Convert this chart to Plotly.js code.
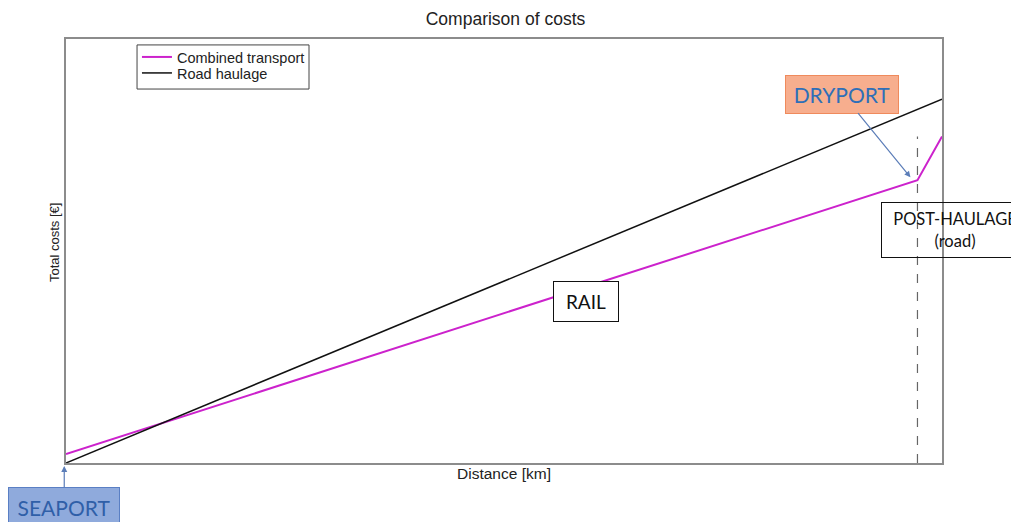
<!DOCTYPE html>
<html>
<head>
<meta charset="utf-8">
<script src="https://cdn.plot.ly/plotly-3.0.1.min.js"></script>
<style>html,body{margin:0;padding:0;background:#fff;}#chart{width:1011px;height:522px;}</style>
</head>
<body>
<div id="chart"></div>
<script>
// Distance (relative units, axes carry no tick labels)
const distanceCombined = [0, 97.2, 100];
const costCombined = [2.1, 66.7, 77.0];
const distanceRoad = [0, 100];
const costRoad = [0, 85.8];
const seriesNames = ["Combined transport", "Road haulage"];
const dryportDistance = 97.2;
const postHaulageTop = 77.0;

const traces = [
  {x: distanceCombined, y: costCombined, name: seriesNames[0], type: 'scatter', mode: 'lines',
   line: {color: '#cc22cc', width: 2}, legend: 'legend'},
  {x: distanceRoad, y: costRoad, name: seriesNames[1], type: 'scatter', mode: 'lines',
   line: {color: '#111111', width: 1.5}, legend: 'legend2'}
];

const calib = 'Lato, "Open Sans", sans-serif';
const legendCommon = {xanchor: 'left', yanchor: 'middle', bgcolor: 'rgba(0,0,0,0)',
  borderwidth: 0, font: {size: 14.5, color: '#222'}, itemwidth: 30};
const layout = {
  width: 1011, height: 522,
  margin: {l: 66, r: 69, t: 39, b: 59},
  paper_bgcolor: '#ffffff', plot_bgcolor: '#ffffff',
  font: {family: '"Liberation Sans", Arial, sans-serif', color: '#222'},
  title: {text: 'Comparison of costs', font: {size: 17.5, color: '#222'}, x: 0.5, xanchor: 'center', y: 0.975, yanchor: 'top'},
  xaxis: {range: [0, 100], showticklabels: false, ticks: '', showgrid: false, zeroline: false,
    showline: true, mirror: true, linecolor: '#8c8c8c', linewidth: 2,
    title: {text: 'Distance [km]', font: {size: 15.5, color: '#222'}, standoff: 4}},
  yaxis: {range: [0, 100], showticklabels: false, ticks: '', showgrid: false, zeroline: false,
    showline: true, mirror: true, linecolor: '#8c8c8c', linewidth: 2},
  showlegend: true,
  legend: Object.assign({x: 0.081, y: 0.9575}, legendCommon),
  legend2: Object.assign({x: 0.081, y: 0.9198}, legendCommon),
  shapes: [
    {type: 'line', xref: 'x', yref: 'y', x0: dryportDistance, x1: dryportDistance, y0: 0, y1: postHaulageTop,
     line: {color: '#666666', width: 1.2, dash: 'dash'}},
    {type: 'rect', xref: 'paper', yref: 'paper', x0: 0.0811, x1: 0.2774, y0: 0.882, y1: 0.986,
     line: {color: '#444', width: 1}, fillcolor: '#ffffff', layer: 'above'}
  ],
  annotations: [
    {xref: 'paper', yref: 'paper', x: -0.0137, y: 0.521, xanchor: 'center', yanchor: 'middle',
     text: 'Total costs [€]', textangle: -90, showarrow: false, font: {size: 13, color: '#222'}},
    {xref: 'x', yref: 'y', x: 96.4, y: 67.4, text: 'DRYPORT', showarrow: true,
     ax: -68, ay: -83, arrowhead: 2, arrowsize: 1, arrowwidth: 1.2, arrowcolor: '#5b7db8',
     font: {family: calib, size: 21, color: '#2e6fb8'}, bgcolor: '#f7ae8e', bordercolor: '#ef8a5c',
     borderwidth: 1, borderpad: 1, width: 110, height: 35},
    {xref: 'paper', yref: 'paper', x: -0.002, y: -0.007, text: 'SEAPORT', showarrow: true,
     ax: 0, ay: 41, arrowhead: 2, arrowsize: 1, arrowwidth: 1.2, arrowcolor: '#5b7db8',
     font: {family: calib, size: 21, color: '#2f5fa8'}, bgcolor: '#8faadc', bordercolor: '#5a7fc4',
     borderwidth: 1, borderpad: 1, width: 108, height: 36},
    {xref: 'paper', yref: 'paper', x: 0.594, y: 0.380, xanchor: 'center', yanchor: 'middle', text: 'RAIL',
     showarrow: false, font: {family: calib, size: 19, color: '#111'}, bgcolor: '#ffffff',
     bordercolor: '#111', borderwidth: 1, borderpad: 1, width: 62, height: 37},
    {xref: 'paper', yref: 'paper', x: 1.015, y: 0.5495, xanchor: 'center', yanchor: 'middle',
     text: 'POST-HAULAGE<br>(road)', showarrow: false, font: {family: calib, size: 16.5, color: '#111'},
     bgcolor: 'rgba(0,0,0,0)', bordercolor: '#111', borderwidth: 1, borderpad: 1, width: 144, height: 52}
  ]
};

Plotly.newPlot('chart', traces, layout, {displayModeBar: false, staticPlot: true});
</script>
</body>
</html>
